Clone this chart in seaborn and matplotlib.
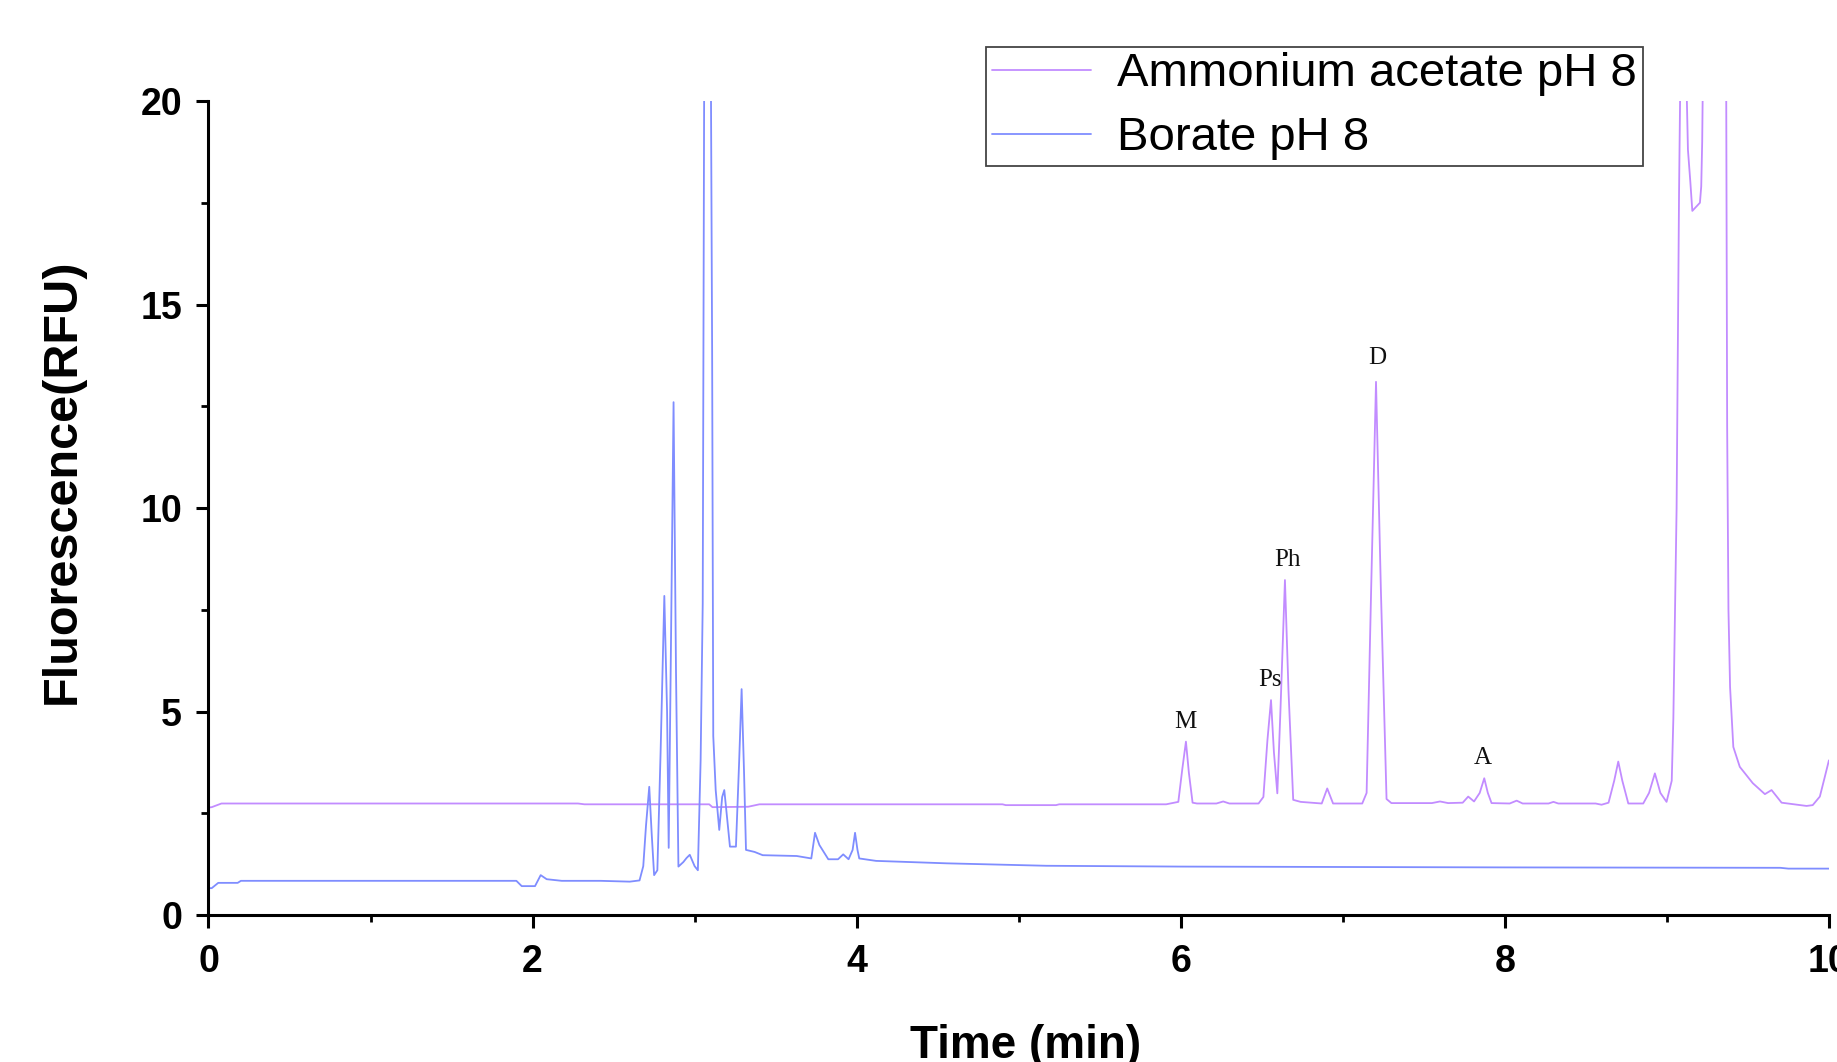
import matplotlib
matplotlib.use("Agg")
import matplotlib.pyplot as plt
from matplotlib.ticker import MultipleLocator
import seaborn as sns

# Ammonium acetate pH 8 trace (time in min, fluorescence in RFU)
t_aa = [0.00, 0.02, 0.08, 2.28, 2.32, 3.09, 3.11, 3.33, 3.40, 4.90, 4.92, 5.23, 5.25,
        5.91, 5.985, 6.01, 6.032, 6.05, 6.073, 6.10, 6.22, 6.262, 6.30, 6.48, 6.51,
        6.535, 6.557, 6.575, 6.596, 6.615, 6.643, 6.665, 6.694, 6.74, 6.87, 6.904,
        6.94, 7.12, 7.147, 7.175, 7.205, 7.235, 7.27, 7.30, 7.55, 7.60, 7.65, 7.74,
        7.774, 7.81, 7.845, 7.873, 7.895, 7.918, 8.03, 8.073, 8.11, 8.27, 8.30, 8.33,
        8.56, 8.597, 8.64, 8.675, 8.70, 8.725, 8.762, 8.854, 8.89, 8.926, 8.96, 8.998,
        9.03, 9.04, 9.06, 9.075, 9.087, 9.10, 9.118, 9.13, 9.145, 9.157, 9.204, 9.212,
        9.218, 9.226, 9.25, 9.32, 9.365, 9.372, 9.38, 9.39, 9.41, 9.45, 9.53, 9.605,
        9.646, 9.708, 9.862, 9.90, 9.944, 9.975, 10.0]
y_aa = [2.64, 2.65, 2.74, 2.74, 2.72, 2.72, 2.65, 2.66, 2.72, 2.72, 2.70, 2.70, 2.72,
        2.72, 2.78, 3.6, 4.26, 3.5, 2.76, 2.74, 2.74, 2.79, 2.74, 2.74, 2.9,
        4.3, 5.28, 4.0, 2.99, 5.0, 8.23, 5.5, 2.83, 2.78, 2.74, 3.11,
        2.74, 2.74, 3.0, 8.0, 13.10, 8.0, 2.85, 2.75, 2.75, 2.79, 2.75, 2.76,
        2.91, 2.79, 3.0, 3.36, 3.0, 2.75, 2.74, 2.81, 2.74, 2.74, 2.78, 2.74,
        2.74, 2.71, 2.76, 3.3, 3.77, 3.3, 2.74, 2.74, 3.0, 3.48, 3.0, 2.78,
        3.3, 4.83, 10.0, 17.7, 22.0, 24.0, 21.0, 18.8, 18.0, 17.3, 17.5, 17.9,
        19.0, 22.0, 28.0, 28.0, 22.0, 12.0, 7.5, 5.6, 4.13, 3.64, 3.24, 2.97,
        3.07, 2.76, 2.68, 2.70, 2.91, 3.4, 3.80]

# Borate pH 8 trace
t_b = [0.00, 0.02, 0.06, 0.18, 0.20, 1.90, 1.933, 2.015, 2.05, 2.087, 2.18, 2.42,
       2.60, 2.66, 2.683, 2.70, 2.72, 2.735, 2.75, 2.77, 2.79, 2.813, 2.83, 2.84,
       2.855, 2.87, 2.885, 2.90, 2.93, 2.95, 2.97, 3.00, 3.02, 3.037, 3.05, 3.06,
       3.09, 3.10, 3.108, 3.115, 3.13, 3.152, 3.17, 3.183, 3.195, 3.218, 3.255,
       3.275, 3.29, 3.305, 3.317, 3.37, 3.42, 3.63, 3.72, 3.743, 3.77, 3.825, 3.885,
       3.917, 3.95, 3.975, 3.99, 4.005, 4.016, 4.12, 4.555, 5.17, 6.00, 8.0, 9.7,
       9.75, 10.0]
y_b = [0.66, 0.66, 0.79, 0.79, 0.84, 0.84, 0.71, 0.71, 0.98, 0.88, 0.84, 0.84,
       0.82, 0.85, 1.2, 2.2, 3.15, 2.0, 0.98, 1.1, 4.0, 7.84, 5.0, 1.65,
       7.0, 12.6, 6.0, 1.19, 1.30, 1.40, 1.48, 1.20, 1.10, 3.8, 7.66, 22.0,
       22.0, 21.0, 13.9, 4.4, 3.07, 2.09, 2.9, 3.07, 2.6, 1.68, 1.68,
       3.8, 5.55, 3.5, 1.60, 1.55, 1.47, 1.45, 1.39, 2.02, 1.72, 1.37, 1.37,
       1.49, 1.37, 1.6, 2.02, 1.6, 1.39, 1.33, 1.27, 1.21, 1.19, 1.17, 1.16,
       1.14, 1.14]

# peak labels
peak_names = ["M", "Ps", "Ph", "D", "A"]
peak_x = [6.03, 6.55, 6.66, 7.215, 7.865]
peak_y = [4.75, 5.77, 8.72, 13.68, 3.85]

purple = "#c28cff"
blue = "#7f8dff"

sns.set_style("ticks")
plt.rcParams["font.family"] = ["Liberation Sans", "DejaVu Sans"]
plt.rcParams["text.color"] = "black"
plt.rcParams["axes.labelcolor"] = "black"

fig = plt.figure(figsize=(18.37, 10.62), dpi=100)
ax = fig.add_axes([0.1135, 0.1384, 0.8821, 0.7665])

sns.lineplot(x=t_aa, y=y_aa, color=purple, linewidth=1.3, estimator=None, ax=ax,
             label="Ammonium acetate pH 8")
sns.lineplot(x=t_b, y=y_b, color=blue, linewidth=1.3, estimator=None, ax=ax,
             label="Borate pH 8")

for name, px, py in zip(peak_names, peak_x, peak_y):
    ax.text(px, py, name, ha="center", va="center", fontsize=18, color="#111111",
            family=["Liberation Serif", "DejaVu Serif"])

ax.set_xlim(0, 10)
ax.set_ylim(0, 20)
ax.xaxis.set_major_locator(MultipleLocator(2))
ax.xaxis.set_minor_locator(MultipleLocator(1))
ax.yaxis.set_major_locator(MultipleLocator(5))
ax.yaxis.set_minor_locator(MultipleLocator(2.5))
ax.spines[["top", "right"]].set_visible(False)
for s in ["left", "bottom"]:
    ax.spines[s].set_linewidth(2.2)
    ax.spines[s].set_color("black")
ax.tick_params(which="major", direction="out", length=9, width=2.2, labelsize=27,
               colors="black")
ax.tick_params(which="minor", direction="out", length=5, width=2, colors="black")
ax.tick_params(axis="x", which="major", pad=12)
ax.tick_params(axis="y", which="major", pad=10)
for lbl in ax.get_xticklabels() + ax.get_yticklabels():
    lbl.set_fontweight("bold")

ax.set_xlabel("")
ax.set_ylabel("")
fig.text(0.5585, 0.004, "Time (min)", ha="center", va="baseline", fontsize=33,
         fontweight="bold", color="black")
fig.text(0.0338, 0.547, "Fluorescence(RFU)", ha="center", va="center", rotation=90,
         fontsize=35, fontweight="bold", color="black")

leg = ax.legend(loc="upper left", bbox_to_anchor=(0.537, 0.956),
                bbox_transform=fig.transFigure, borderaxespad=0, frameon=True,
                fancybox=False, framealpha=1, handlelength=2.1, handletextpad=0.55,
                labelspacing=0.42, borderpad=0.12, prop={"size": 34})
leg.get_frame().set_edgecolor("#444444")
leg.get_frame().set_linewidth(1.3)
for txt in leg.get_texts():
    txt.set_color("black")
for line in leg.get_lines():
    line.set_linewidth(1.3)

fig.savefig("out.png", dpi=100)
